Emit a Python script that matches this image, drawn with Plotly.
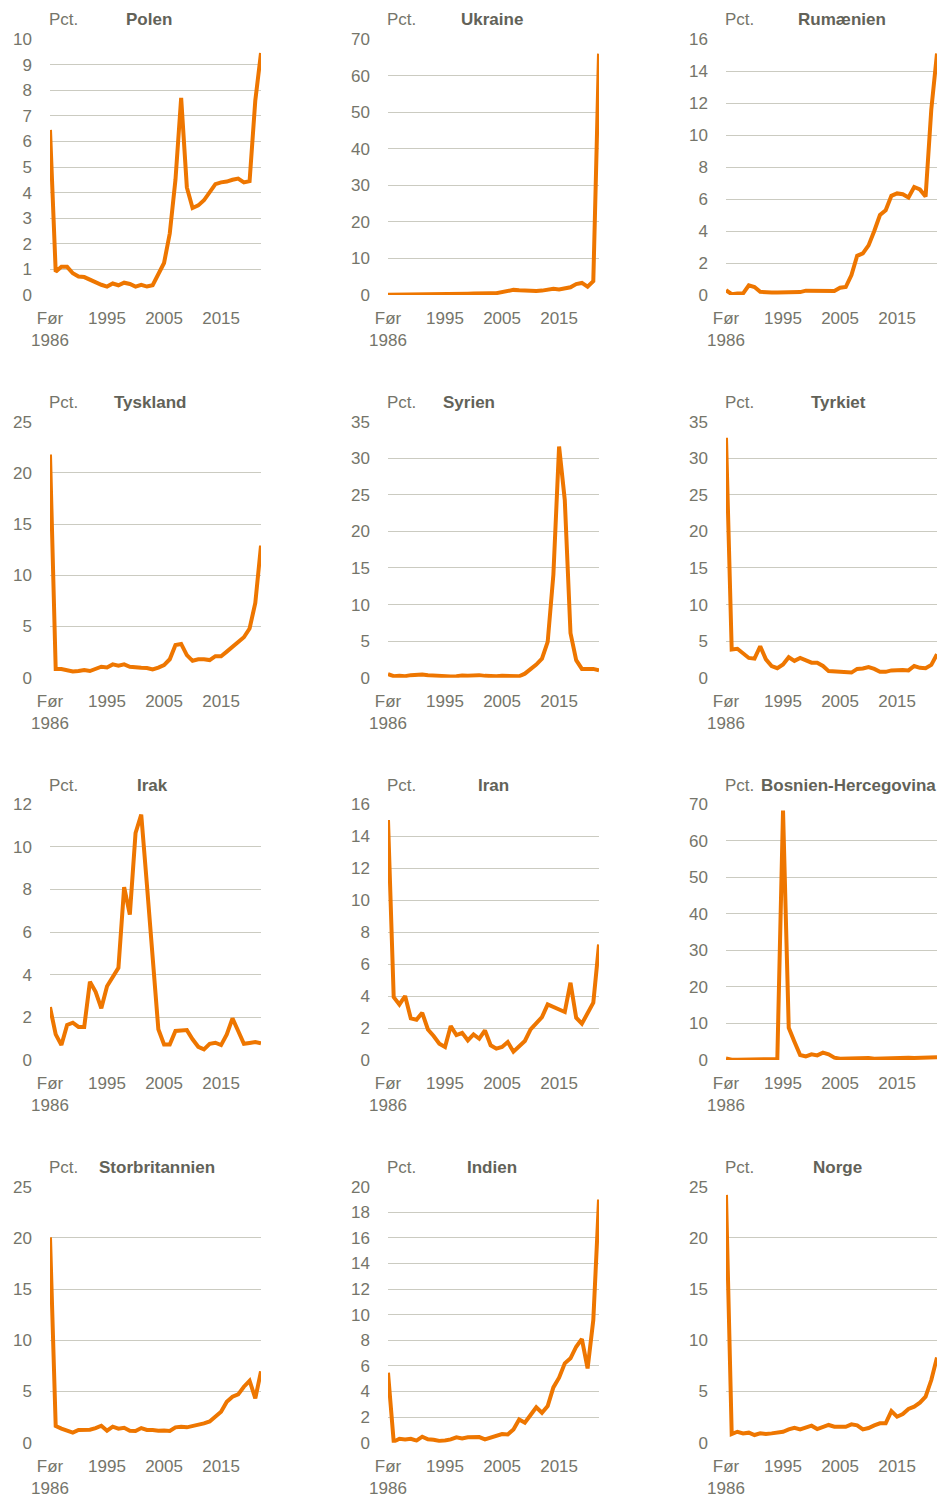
import plotly.graph_objects as go

# x: 1985 stands for "Før 1986"
YEARS = list(range(1985, 2023))
TICK_VALS = [1985, 1995, 2005, 2015]
TICK_TEXT = ["Før<br>1986", "1995", "2005", "2015"]

COUNTRIES = ["Polen", "Ukraine", "Rumænien",
             "Tyskland", "Syrien", "Tyrkiet",
             "Irak", "Iran", "Bosnien-Hercegovina",
             "Storbritannien", "Indien", "Norge"]

polen = [6.45, 0.91, 1.1, 1.1, 0.85, 0.72, 0.7, 0.6, 0.47, 0.4, 0.33, 0.45, 0.38,
         0.48, 0.43, 0.33, 0.4, 0.33, 0.38, 0.78, 1.25, 2.4, 4.5, 7.7, 4.2, 3.4,
         3.5, 3.7, 4.05, 4.33, 4.4, 4.43, 4.5, 4.55, 4.4, 4.45, 7.6, 9.45]
ukraine = [0.1, 0.1, 0.1, 0.1, 0.1, 0.1, 0.1, 0.2, 0.2, 0.2, 0.2, 0.3, 0.3,
           0.35, 0.35, 0.4, 0.5, 0.5, 0.5, 0.5, 0.8, 1.2, 1.4, 1.3, 1.2, 1.1,
           1.1, 1.2, 1.4, 1.7, 1.5, 1.8, 2.1, 3.0, 3.3, 2.3, 3.8, 66.0]
rumaenien = [0.3, 0.05, 0.1, 0.1, 0.6, 0.5, 0.2, 0.15, 0.15, 0.15, 0.15, 0.17,
             0.17, 0.18, 0.27, 0.27, 0.28, 0.3, 0.25, 0.25, 0.45, 0.5, 1.25, 2.45,
             2.6, 3.1, 4.0, 5.0, 5.3, 6.2, 6.35, 6.3, 6.1, 6.75, 6.6, 6.15, 11.6, 15.1]
tyskland = [21.8, 0.85, 0.85, 0.7, 0.6, 0.65, 0.75, 0.65, 0.85, 1.07, 1.0, 1.3,
            1.17, 1.3, 1.07, 0.98, 0.98, 0.95, 0.8, 0.98, 1.23, 1.8, 3.2, 3.3,
            2.2, 1.65, 1.8, 1.8, 1.72, 2.1, 2.1, 2.55, 3.0, 3.45, 3.95, 4.8, 7.3, 12.9]
syrien = [0.5, 0.2, 0.25, 0.2, 0.35, 0.45, 0.45, 0.35, 0.3, 0.25, 0.15, 0.15,
          0.2, 0.3, 0.25, 0.3, 0.35, 0.25, 0.2, 0.2, 0.25, 0.2, 0.15, 0.2, 0.55,
          1.1, 1.8, 2.6, 4.9, 14.1, 31.6, 24.3, 6.1, 2.4, 1.2, 1.2, 1.2, 1.0]
tyrkiet = [32.8, 3.85, 3.95, 3.4, 2.7, 2.6, 4.3, 2.5, 1.6, 1.3, 1.8, 2.8, 2.3,
           2.7, 2.4, 2.05, 2.05, 1.6, 0.9, 0.85, 0.85, 0.8, 0.7, 1.2, 1.25, 1.45,
           1.2, 0.8, 0.8, 1.0, 1.05, 1.05, 1.0, 1.6, 1.35, 1.3, 1.75, 3.2]
irak = [2.48, 1.2, 0.7, 1.64, 1.75, 1.55, 1.55, 3.67, 3.2, 2.42, 3.46, 3.88,
        4.32, 8.1, 6.82, 10.64, 11.5, 8.2, 4.95, 1.44, 0.73, 0.73, 1.36, 1.4,
        1.4, 0.97, 0.62, 0.5, 0.76, 0.81, 0.7, 1.2, 1.95, 1.36, 0.76, 0.8, 0.84, 0.78]
iran = [15.0, 3.93, 3.47, 4.0, 2.6, 2.52, 2.95, 1.91, 1.5, 1.02, 0.81, 2.12,
        1.56, 1.7, 1.23, 1.6, 1.33, 1.85, 0.92, 0.71, 0.81, 1.12, 0.52, 0.87,
        1.19, 1.91, 2.33, 2.68, 3.47, 3.31, 3.12, 3.0, 4.83, 2.64, 2.27, 2.89, 3.58, 7.22]
bosnien = [0.45, 0.1, 0.1, 0.1, 0.15, 0.2, 0.2, 0.25, 0.3, 0.3, 68.2, 8.8, 5.0,
           1.36, 1.0, 1.55, 1.27, 2.0, 1.55, 0.64, 0.36, 0.45, 0.55, 0.64, 0.55,
           0.55, 0.36, 0.45, 0.55, 0.64, 0.64, 0.55, 0.64, 0.55, 0.55, 0.55, 0.64, 0.73]
storbritannien = [20.05, 1.63, 1.37, 1.14, 0.98, 1.24, 1.3, 1.27, 1.43, 1.66,
                  1.17, 1.56, 1.37, 1.46, 1.17, 1.14, 1.43, 1.24, 1.24, 1.17, 1.2,
                  1.14, 1.5, 1.56, 1.5, 1.63, 1.69, 1.89, 2.08, 2.54, 3.03, 4.0,
                  4.49, 4.72, 5.47, 6.05, 4.33, 6.97]
indien = [5.47, 0.08, 0.31, 0.26, 0.31, 0.16, 0.47, 0.26, 0.23, 0.13, 0.18, 0.26,
          0.42, 0.34, 0.42, 0.44, 0.44, 0.26, 0.39, 0.52, 0.68, 0.65, 1.04, 1.82,
          1.56, 2.16, 2.76, 2.34, 2.86, 4.32, 5.08, 6.2, 6.59, 7.5, 8.1, 5.8, 9.58, 19.0]
norge = [24.2, 0.85, 1.07, 0.91, 0.98, 0.75, 0.91, 0.85, 0.91, 0.98, 1.07, 1.3,
         1.46, 1.3, 1.5, 1.66, 1.33, 1.56, 1.73, 1.56, 1.53, 1.56, 1.79, 1.69,
         1.3, 1.43, 1.69, 1.89, 1.89, 3.09, 2.54, 2.8, 3.29, 3.52, 3.91, 4.49, 6.12, 8.33]

SERIES = [polen, ukraine, rumaenien, tyskland, syrien, tyrkiet,
          irak, iran, bosnien, storbritannien, indien, norge]
Y_MAX = [10, 70, 16, 25, 35, 35, 12, 16, 70, 25, 20, 25]
Y_STEP = [1, 10, 2, 5, 5, 5, 2, 2, 10, 5, 2, 5]

# ── layout (pixels) ─────────────────────────────────────────
W, H = 944, 1501
COL_LEFT = [50, 388, 726]
PLOT_W = 211
ROW_TOP = [39, 421.7, 804, 1186.7]
PLOT_H = 256
TITLE_X = [149, 492, 842, 150, 469, 838, 152, 493, 848, 157, 492, 837]

ORANGE = "#EE7600"
TXT = "#75756A"
TITLE_C = "#626258"
GRID = "#CBCBC1"
FONT = "Liberation Sans, Arial, sans-serif"
FS = 17

fig = go.Figure()
annotations = []
layout_axes = {}

for i, (name, vals) in enumerate(zip(COUNTRIES, SERIES)):
    r, c = divmod(i, 3)
    n = "" if i == 0 else str(i + 1)
    x0 = COL_LEFT[c] / W
    x1 = (COL_LEFT[c] + PLOT_W) / W
    y1 = 1 - ROW_TOP[r] / H
    y0 = 1 - (ROW_TOP[r] + PLOT_H) / H

    fig.add_trace(go.Scatter(
        x=YEARS, y=vals, mode="lines",
        line=dict(color=ORANGE, width=4),
        xaxis="x" + n, yaxis="y" + n, showlegend=False,
        hovertemplate=name + ": %{y:.1f} pct.<extra></extra>",
    ))

    layout_axes["xaxis" + n] = dict(
        domain=[x0, x1], anchor="y" + n, range=[1985, 2022],
        tickvals=TICK_VALS, ticktext=TICK_TEXT,
        showgrid=False, zeroline=False, showline=False, ticks="",
        tickfont=dict(family=FONT, size=FS, color=TXT),
        ticklabelstandoff=11, automargin=False,
    )
    layout_axes["yaxis" + n] = dict(
        domain=[y0, y1], anchor="x" + n, range=[0, Y_MAX[i]],
        dtick=Y_STEP[i], tick0=0,
        showgrid=True, gridcolor=GRID, gridwidth=1,
        zeroline=False, showline=False, ticks="",
        tickfont=dict(family=FONT, size=FS, color=TXT),
        ticklabelstandoff=17, automargin=False,
    )

    lab_y = 1 - (ROW_TOP[r] - 19) / H
    annotations.append(dict(
        text="Pct.", x=(COL_LEFT[c] - 3) / W, y=lab_y,
        xref="paper", yref="paper", xanchor="left", yanchor="middle",
        showarrow=False, font=dict(family=FONT, size=FS, color=TXT),
    ))
    annotations.append(dict(
        text="<b>" + name + "</b>", x=TITLE_X[i] / W, y=lab_y,
        xref="paper", yref="paper", xanchor="center", yanchor="middle",
        showarrow=False, font=dict(family=FONT, size=FS, color=TITLE_C),
    ))

fig.update_layout(
    width=W, height=H,
    margin=dict(l=0, r=0, t=0, b=0),
    paper_bgcolor="white", plot_bgcolor="white",
    annotations=annotations,
    **layout_axes,
)

# drop the browser's default 8px body margin so the figure fills the window
fig.write_html("out.html", config={"displayModeBar": False},
               post_script="document.body.style.margin = '0';")
